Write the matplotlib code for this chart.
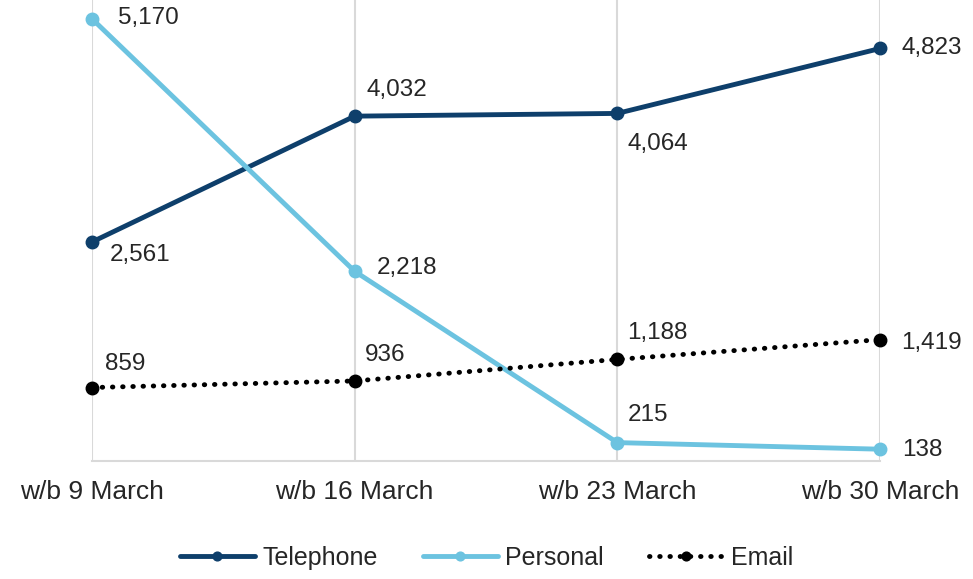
import matplotlib.pyplot as plt

# Data
weeks = ['w/b 9 March', 'w/b 16 March', 'w/b 23 March', 'w/b 30 March']
telephone = [2561, 4032, 4064, 4823]
personal = [5170, 2218, 215, 138]
email = [859, 936, 1188, 1419]

# Colours
navy = '#0E3F6B'
light_blue = '#6CC3E0'

plt.rcParams['font.family'] = ['Liberation Sans', 'DejaVu Sans']

fig = plt.figure(figsize=(9.73, 5.79), dpi=100)
ax = fig.add_axes([92 / 973, 118 / 579, 788 / 973, 461 / 579])

x = range(len(weeks))
ax.plot(x, telephone, color=navy, lw=3.5, marker='o', ms=9, label='Telephone',
        clip_on=False, zorder=3, solid_capstyle='round')
ax.plot(x, personal, color=light_blue, lw=3.5, marker='o', ms=9, label='Personal',
        clip_on=False, zorder=3, solid_capstyle='round')
ax.plot(x, email, color='black', lw=3.5, ls=(0, (0.1, 2.0)), dash_capstyle='round',
        marker='o', ms=9, label='Email', clip_on=False, zorder=3)

# Data label offsets (pixels from the point)
offsets = {
    'telephone': [(18, -13), (12, 26), (10, -31), (22, 0)],
    'personal': [(26, 1), (22, 3), (10, 28), (22, -1)],
    'email': [(13, 24), (10, 26), (10, 26), (21, -3)],
}
for name, vals in [('telephone', telephone), ('personal', personal), ('email', email)]:
    for i, v in enumerate(vals):
        dx, dy = offsets[name][i]
        ax.annotate(f'{v:,}', (i, v), xytext=(dx, dy), textcoords='offset pixels',
                    ha='left', va='center', fontsize=17.5, color='#262626')

ax.set_xlim(0, 3)
ax.set_ylim(0, 5390)
ax.set_xticks(list(x))
ax.set_xticklabels(weeks, fontsize=19, color='#262626')
ax.set_yticks([])
ax.tick_params(axis='x', length=0, pad=14)
ax.grid(axis='x', color='#D9D9D9', lw=1.5)
ax.set_axisbelow(True)
for s in ['top', 'right', 'left']:
    ax.spines[s].set_visible(False)
ax.spines['bottom'].set_color('#D9D9D9')
ax.spines['bottom'].set_linewidth(1.5)

fig.legend(loc='center', bbox_to_anchor=(0.5, 1 - 558 / 579), ncol=3, frameon=False,
           fontsize=18, handlelength=3.0, handletextpad=0.3, columnspacing=1.8,
           labelcolor='#262626', markerscale=0.7)

fig.savefig('out.png', dpi=100)
